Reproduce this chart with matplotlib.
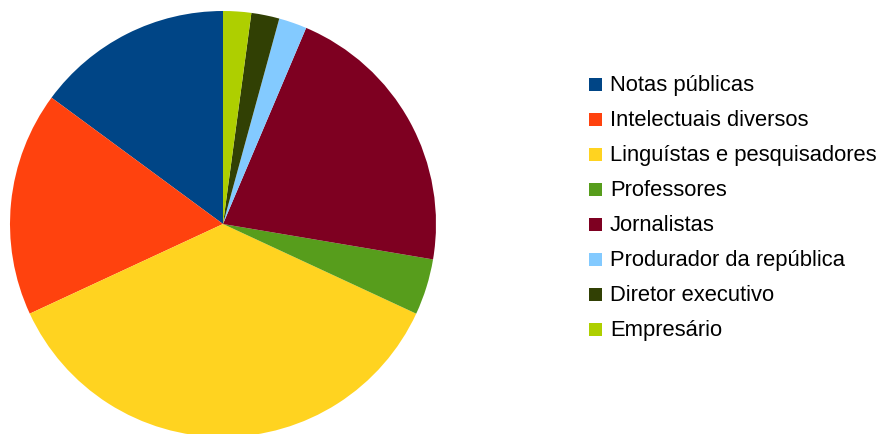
import matplotlib.pyplot as plt
from matplotlib.patches import Rectangle

labels = ['Notas públicas', 'Intelectuais diversos', 'Linguístas e pesquisadores',
          'Professores', 'Jornalistas', 'Produrador da república',
          'Diretor executivo', 'Empresário']
counts = [7, 8, 17, 2, 10, 1, 1, 1]
colors = ['#004586', '#ff420e', '#ffd320', '#579d1c', '#7e0021',
          '#83caff', '#314004', '#aecf00']

plt.rcParams['font.family'] = ['Liberation Sans', 'DejaVu Sans']

W, H = 879, 435
fig = plt.figure(figsize=(W / 100, H / 100), dpi=100)

# pie: centre ~ (223, 225) px, radius ~ 213 px
cx, cy, r = 223, 225, 213
ax = fig.add_axes([(cx - r) / W, (H - cy - r) / H, 2 * r / W, 2 * r / H])
ax.pie(counts, colors=colors, startangle=90, counterclock=True,
       wedgeprops=dict(linewidth=0))
ax.set_xlim(-1, 1)
ax.set_ylim(-1, 1)
ax.set_aspect('equal')
ax.axis('off')

# legend drawn by hand to match spacing
for i, (lab, col) in enumerate(zip(labels, colors)):
    y = 85 + 35 * i
    fig.patches.append(Rectangle((589 / W, 1 - (y + 6.5) / H), 13 / W, 13 / H,
                                 transform=fig.transFigure, facecolor=col,
                                 edgecolor='none'))
    fig.text(610 / W, 1 - (y + 1) / H, lab, fontsize=15.8, va='center', ha='left',
             color='#000000')

fig.savefig('out.png', dpi=100)
